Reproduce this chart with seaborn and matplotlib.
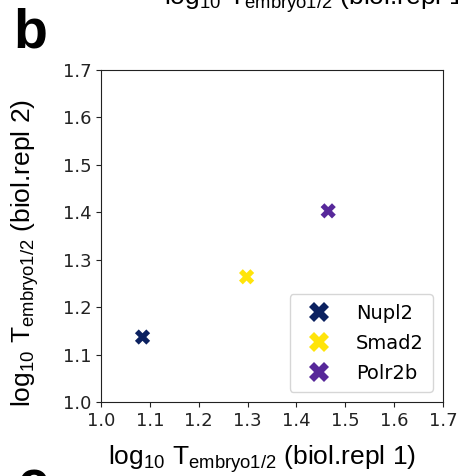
import matplotlib
matplotlib.use("Agg")
import matplotlib.pyplot as plt
import seaborn as sns
import pandas as pd

genes = ["Nupl2", "Smad2", "Polr2b"]
repl1 = [1.085, 1.298, 1.465]
repl2 = [1.137, 1.264, 1.403]
colors = ["#0b2160", "#ffe40a", "#57289a"]
ticks = [1.0, 1.1, 1.2, 1.3, 1.4, 1.5, 1.6, 1.7]

plt.rcParams["mathtext.fontset"] = "custom"
plt.rcParams["mathtext.rm"] = "Liberation Sans"
plt.rcParams["mathtext.it"] = "Liberation Sans"

df = pd.DataFrame({"gene": genes, "r1": repl1, "r2": repl2})

fig = plt.figure(figsize=(4.58, 4.76), dpi=100)
ax = fig.add_axes([101/458, 1-402/476, (443-101)/458, (402-70)/476])

sns.scatterplot(data=df, x="r1", y="r2", hue="gene", hue_order=genes,
                palette=colors, marker="X", s=120, linewidth=0, ax=ax,
                legend=True)

ax.set_xlim(1.0, 1.7)
ax.set_ylim(1.0, 1.7)
ax.set_xticks(ticks)
ax.set_yticks(ticks)
ax.set_xticklabels([f"{t:.1f}" for t in ticks])
ax.set_yticklabels([f"{t:.1f}" for t in ticks])
ax.tick_params(labelsize=13, colors="#222222")
for sp in ax.spines.values():
    sp.set_color("#222222")
ax.set_xlabel("")
ax.set_ylabel("")

handles, labels = ax.get_legend_handles_labels()
ax.legend(handles, labels, loc="lower right", fontsize=14, markerscale=1.3,
          handletextpad=0.9, borderpad=0.5, labelspacing=0.55)

lab_font = "Liberation Sans"
lab_size = 19
fig.text(262/458, 1-465/476,
         r"$\mathrm{log_{10}\ T_{embryo1/2}}$ (biol.repl 1)",
         ha="center", va="baseline", fontsize=lab_size, family=lab_font)
fig.text(25/458, 1-253/476,
         r"$\mathrm{log_{10}\ T_{embryo1/2}}$ (biol.repl 2)",
         ha="center", va="center", rotation=90, fontsize=lab_size,
         family=lab_font)
# partial label of panel above (cropped)
fig.text(318/458, 1-5/476,
         r"$\mathrm{log_{10}\ T_{embryo1/2}}$ (biol.repl 1)",
         ha="center", va="baseline", fontsize=lab_size, family=lab_font)
fig.text(0.030, 1-48/476, "b", fontsize=40, fontweight="bold",
         family=lab_font, va="baseline")
fig.text(0.040, 1-500/476, "c", fontsize=40, fontweight="bold",
         family=lab_font, va="baseline")

fig.savefig("out.png", dpi=100)
